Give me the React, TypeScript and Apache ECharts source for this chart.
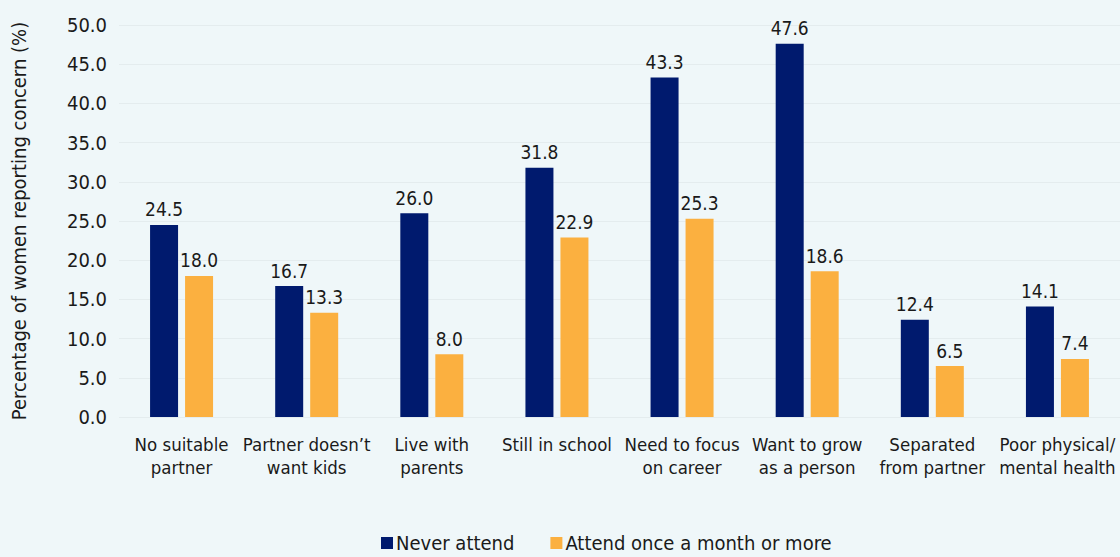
import React, { useEffect, useRef } from "react";
import * as echarts from "echarts";

const categories = [
  "No suitable\npartner",
  "Partner doesn’t\nwant kids",
  "Live with\nparents",
  "Still in school",
  "Need to focus\non career",
  "Want to grow\nas a person",
  "Separated\nfrom partner",
  "Poor physical/\nmental health",
];
const neverAttend = [24.5, 16.7, 26.0, 31.8, 43.3, 47.6, 12.4, 14.1];
const attendMonthly = [18.0, 13.3, 8.0, 22.9, 25.3, 18.6, 6.5, 7.4];
const seriesNames = ["Never attend", "Attend once a month or more"];
const yAxisName = "Percentage of women reporting concern (%)";

const FONT = "'DejaVu Sans Condensed', 'Liberation Sans Narrow', sans-serif";
const TEXT = "#1a1a1a";

export default function App() {
  const ref = useRef<HTMLDivElement>(null);
  useEffect(() => {
    const chart = echarts.init(ref.current!, null, { renderer: "svg" });
    const valueLabel = {
      show: true,
      position: "top",
      distance: 6,
      fontSize: 19,
      color: TEXT,
      fontFamily: FONT,
      formatter: (p: any) => p.value.toFixed(1),
    };
    chart.setOption({
      animation: false,
      backgroundColor: "#EFF7F9",
      textStyle: { fontFamily: FONT, color: TEXT },
      grid: { left: 119, right: -3, top: 25, bottom: 140 },
      legend: {
        top: 528,
        left: 376,
        itemWidth: 12,
        itemHeight: 12,
        itemGap: 36,
        icon: "rect",
        textStyle: { fontSize: 20, fontFamily: FONT, color: TEXT, padding: [0, 0, 0, -2] },
        data: seriesNames,
      },
      xAxis: {
        type: "category",
        data: categories,
        axisLine: { show: false },
        axisTick: { show: false },
        axisLabel: {
          interval: 0,
          fontSize: 18.5,
          lineHeight: 23,
          margin: 16,
          color: TEXT,
          fontFamily: FONT,
        },
      },
      yAxis: {
        type: "value",
        min: 0,
        max: 50,
        interval: 5,
        name: yAxisName,
        nameLocation: "middle",
        nameGap: 90,
        nameTextStyle: { fontSize: 20, color: TEXT, fontFamily: FONT },
        axisLabel: {
          formatter: (v: number) => v.toFixed(1),
          fontSize: 20,
          margin: 12,
          color: TEXT,
          fontFamily: FONT,
        },
        splitLine: { lineStyle: { color: "#E4ECEE", width: 1 } },
      },
      series: [
        {
          name: seriesNames[0],
          type: "bar",
          data: neverAttend,
          barWidth: 28,
          barGap: "25%",
          itemStyle: { color: "#001A6E" },
          label: valueLabel,
        },
        {
          name: seriesNames[1],
          type: "bar",
          data: attendMonthly,
          barWidth: 28,
          itemStyle: { color: "#FBB040" },
          label: valueLabel,
        },
      ],
    });
    return () => chart.dispose();
  }, []);
  return <div ref={ref} style={{ width: 1120, height: 557, position: "absolute", left: 0, top: 0 }} />;
}
